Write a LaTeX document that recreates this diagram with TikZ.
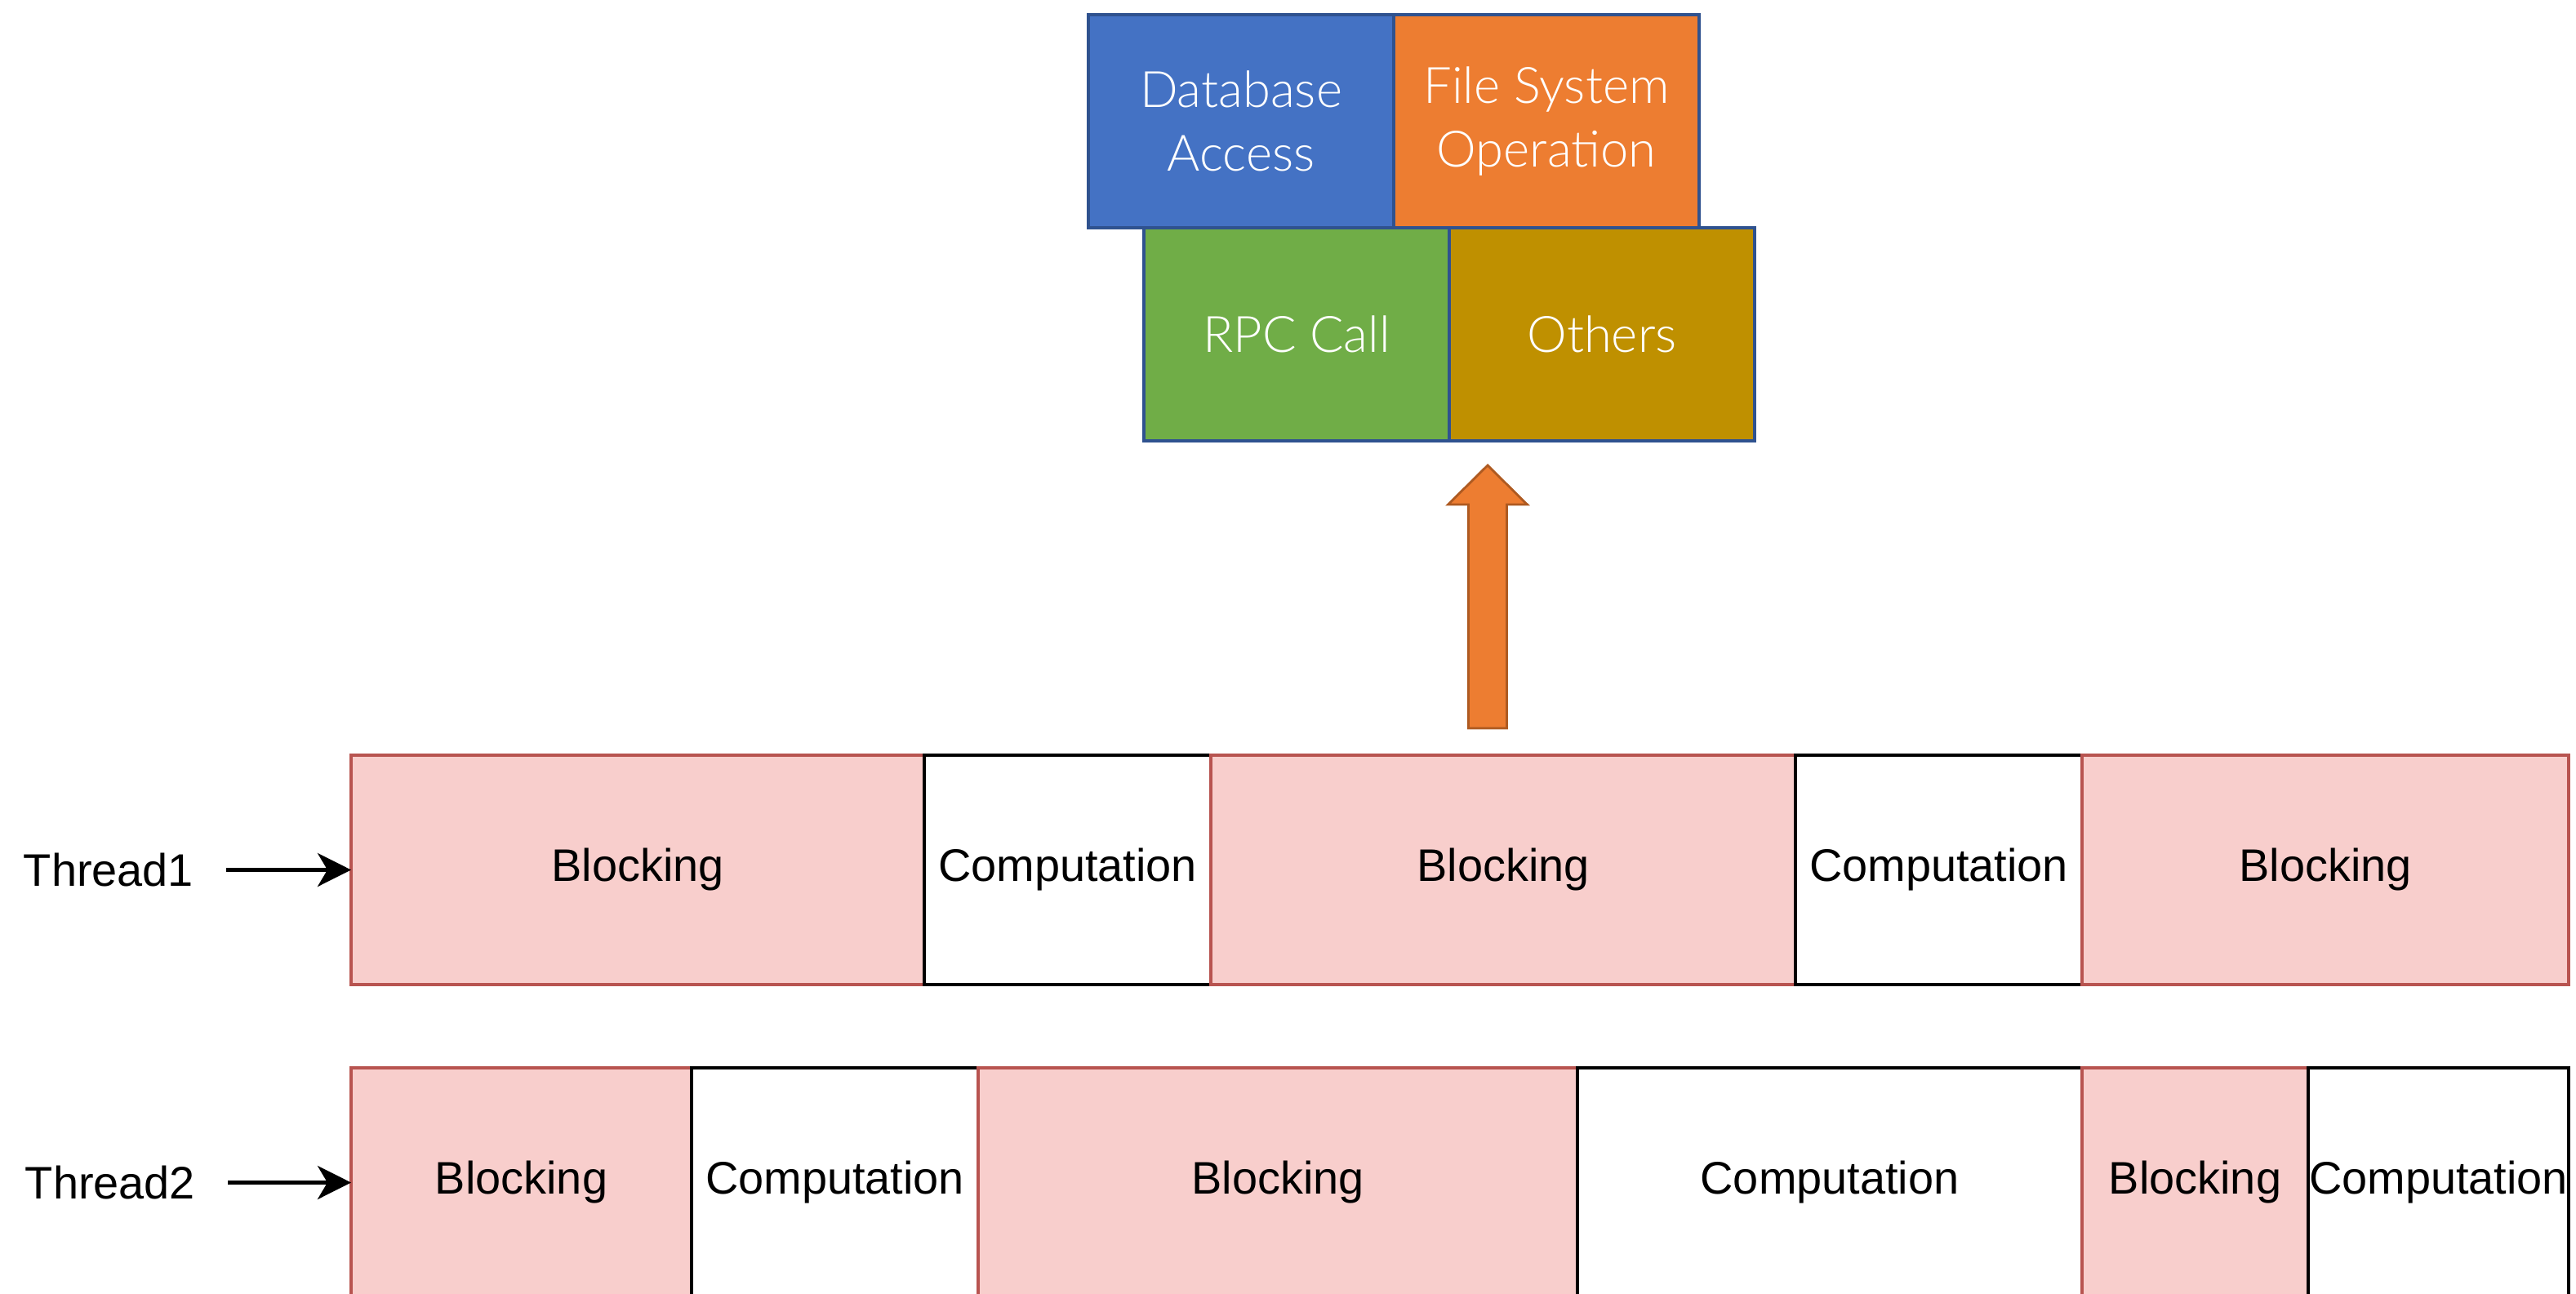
\documentclass[tikz,border=0pt]{standalone}
\usepackage{fontspec}
\setmainfont{Liberation Sans}
\newfontfamily\lightfont{Lato}[UprightFont=* Light]
\usepackage{tikz}
\usetikzlibrary{positioning,arrows.meta}

\definecolor{blockpink}{HTML}{F8CECC}
\definecolor{blockred}{HTML}{B85450}
\definecolor{dbblue}{HTML}{4472C4}
\definecolor{fsorange}{HTML}{ED7D31}
\definecolor{rpcgreen}{HTML}{70AD47}
\definecolor{othgold}{HTML}{BF9000}
\definecolor{kindblue}{HTML}{2F528F}
\definecolor{arrowbrown}{HTML}{AE5A21}

\begin{document}
\begin{tikzpicture}
          \tikzset{cell/.style = {minimum height = 2.81cm, inner sep = 0pt, outer sep = 0pt,
                   line width = 1.1pt, font = \fontsize{15.9}{19}\selectfont}}
          \tikzset{blocking/.style = {cell, draw = blockred, fill = blockpink}}
          \tikzset{computation/.style = {cell, draw = black, fill = white}}
          \tikzset{kind/.style = {minimum width = 3.74cm, minimum height = 2.61cm, inner sep = 0pt,
                   outer sep = 0pt, draw = kindblue, line width = 0.9pt, text = white, align = center,
                   font = \lightfont\fontsize{17.5}{22}\selectfont}}
          \tikzset{thread/.style = {font = \fontsize{15.9}{19}\selectfont}}
          \tikzset{ThreadEdge/.style = {-{Stealth[length = 0.41cm, width = 0.41cm, inset = 0.12cm]},
                   line width = 1.3pt, shorten < = 0.28cm}}

          \useasboundingbox (0,0) rectangle (31.55,-15.85);

          \node[kind, fill = dbblue] (db) at (15.20,-1.485) {Database\\Access};
          \node[kind, fill = fsorange, right = 0pt of db] (fs) {File System\\Operation};
          \node[kind, fill = rpcgreen, below = 0pt of db, xshift = 0.68cm] (rpc) {RPC Call};
          \node[kind, fill = othgold, right = 0pt of rpc] (oth) {Others};

          \coordinate (up) at (18.22,-8.92);
          \draw[fill = fsorange, draw = arrowbrown, line width = 0.8pt]
            (up) ++(-0.235,0) -- ++(0,2.74) -- ++(-0.25,0) -- ++(0.485,0.48)
            -- ++(0.485,-0.48) -- ++(-0.25,0) -- ++(0,-2.74) -- cycle;

          \node[blocking, minimum width = 7.02cm, anchor = west] (b11) at (4.30,-10.655) {Blocking};
          \node[computation, minimum width = 3.51cm, right = 0pt of b11] (c11) {Computation};
          \node[blocking, minimum width = 7.16cm, right = 0pt of c11] (b12) {Blocking};
          \node[computation, minimum width = 3.51cm, right = 0pt of b12] (c12) {Computation};
          \node[blocking, minimum width = 5.96cm, right = 0pt of c12] (b13) {Blocking};

          \node[blocking, minimum width = 4.17cm, anchor = west] (b21) at (4.30,-14.485) {Blocking};
          \node[computation, minimum width = 3.51cm, right = 0pt of b21] (c21) {Computation};
          \node[blocking, minimum width = 7.34cm, right = 0pt of c21] (b22) {Blocking};
          \node[computation, minimum width = 6.18cm, right = 0pt of b22] (c22) {Computation};
          \node[blocking, minimum width = 2.77cm, right = 0pt of c22] (b23) {Blocking};
          \node[computation, minimum width = 3.19cm, right = 0pt of b23] (c23) {Computation};

          \node[thread] (t1) at (1.33,-10.655) {Thread1};
          \node[thread] (t2) at (1.35,-14.485) {Thread2};

          \draw[ThreadEdge] (t1) -- (b11);
          \draw[ThreadEdge] (t2) -- (b21);
        \end{tikzpicture}
\end{document}
